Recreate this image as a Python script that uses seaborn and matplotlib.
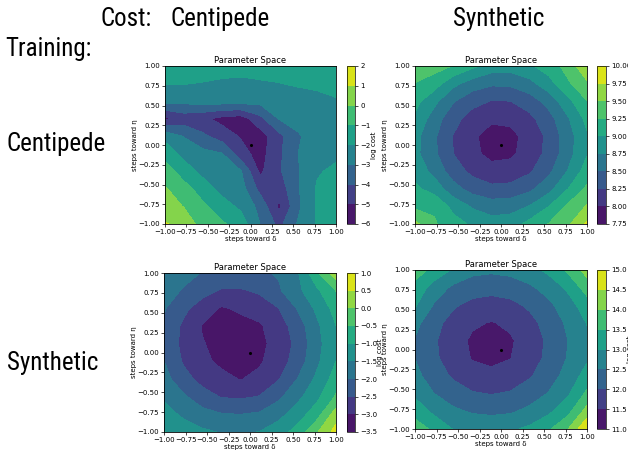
import matplotlib
matplotlib.use("Agg")
import matplotlib.pyplot as plt
from matplotlib import font_manager
from matplotlib.font_manager import FontProperties
import numpy as np
import seaborn as sns

# ---- grid of steps (delta along x, eta along y; eta listed from top row down) ----
delta_steps = [-1.0, -0.7778, -0.5556, -0.3333, -0.1111, 0.1111, 0.3333, 0.5556, 0.7778, 1.0]
eta_steps = [1.0, 0.7778, 0.5556, 0.3333, 0.1111, -0.1111, -0.3333, -0.5556, -0.7778, -1.0]

# log cost, training = Centipede, cost = Centipede
z_cent_cent = [
    [-1.4, -1.5, -1.6, -1.75, -1.8, -1.75, -1.65, -1.5, -1.4, -1.3],
    [-1.98, -1.97, -2.04, -2.10, -2.12, -2.07, -2.02, -1.9, -1.8, -1.7],
    [-2.7, -2.7, -2.6, -2.55, -2.55, -2.7, -2.5, -2.4, -2.3, -2.08],
    [-5.2, -4.6, -4.8, -5.3, -5.5, -4.3, -2.95, -2.7, -2.6, -2.4],
    [-2.3, -3.05, -3.8, -4.5, -5.1, -5.5, -4.3, -3.1, -2.6, -2.4],
    [-1.4, -2.3, -2.7, -2.95, -4.6, -5.4, -4.2, -3.0, -2.4, -2.2],
    [-0.5, -1.5, -2.3, -2.6, -2.95, -5.2, -4.15, -3.1, -2.1, -1.8],
    [0.1, -0.6, -1.5, -2.3, -2.6, -4.3, -4.6, -3.1, -1.9, -1.6],
    [0.5, -0.05, -0.8, -1.6, -2.2, -3.3, -5.2, -3.2, -1.9, -1.5],
    [1.08, 0.7, -0.5, -0.85, -1.5, -3.0, -4.3, -2.9, -1.9, -1.5],
]
# training = Centipede, cost = Synthetic
z_cent_syn = [
    [9.42, 9.35, 9.24, 9.06, 8.88, 8.86, 8.96, 9.12, 9.34, 9.72],
    [9.24, 9.12, 8.82, 8.63, 8.54, 8.55, 8.67, 8.90, 9.21, 9.45],
    [9.08, 8.82, 8.52, 8.33, 8.24, 8.25, 8.375, 8.595, 8.925, 9.24],
    [8.95, 8.63, 8.33, 8.146, 8.047, 8.065, 8.184, 8.403, 8.72, 9.07],
    [8.83, 8.54, 8.24, 8.047, 7.888, 7.925, 8.097, 8.307, 8.637, 8.97],
    [8.82, 8.55, 8.25, 8.065, 7.925, 7.954, 8.112, 8.322, 8.65, 8.98],
    [8.92, 8.67, 8.375, 8.184, 8.097, 8.112, 8.219, 8.443, 8.7625, 9.12],
    [9.05, 8.90, 8.595, 8.403, 8.307, 8.322, 8.443, 8.663, 8.996, 9.3],
    [9.2, 9.21, 8.925, 8.72, 8.637, 8.65, 8.7625, 8.996, 9.296, 9.52],
    [9.56, 9.28, 9.1, 8.96, 8.85, 8.88, 9.08, 9.26, 9.45, 9.8],
]
# training = Synthetic, cost = Centipede
z_syn_cent = [
    [-1.65, -1.85, -2.02, -2.1, -2.12, -2.08, -1.95, -1.55, -0.6, 0.3],
    [-1.79, -2.04, -2.31, -2.56, -2.56, -2.42, -2.07, -1.62, -1.10, -0.49],
    [-1.96, -2.37, -2.75, -3.05, -2.93, -2.79, -2.51, -1.96, -1.40, -0.81],
    [-2.07, -2.59, -3.03, -3.12, -3.14, -3.06, -2.73, -2.26, -1.60, -1.01],
    [-2.10, -2.63, -2.97, -3.16, -3.27, -3.12, -2.82, -2.36, -1.67, -1.07],
    [-1.99, -2.55, -2.90, -3.09, -3.14, -3.06, -2.74, -2.27, -1.60, -1.0],
    [-1.82, -2.31, -2.67, -2.88, -3.02, -2.88, -2.53, -1.98, -1.40, -0.78],
    [-1.58, -1.92, -2.29, -2.53, -2.57, -2.48, -2.11, -1.63, -1.13, -0.45],
    [-1.29, -1.59, -1.82, -1.97, -2.0, -1.93, -1.66, -1.24, -0.72, 0.25],
    [-0.98, -1.23, -1.41, -1.53, -1.56, -1.49, -1.23, -0.80, -0.05, 0.7],
]
# training = Synthetic, cost = Synthetic
z_syn_syn = [
    [13.8, 13.3, 12.95, 12.645, 12.59, 12.65, 12.83, 13.12, 13.59, 14.2],
    [13.3, 12.8, 12.39, 12.22, 12.16, 12.23, 12.41, 12.70, 13.09, 13.73],
    [13.05, 12.45, 12.06, 11.86, 11.80, 11.87, 12.08, 12.385, 12.79, 13.25],
    [12.65, 12.15, 11.82, 11.57, 11.47, 11.59, 11.85, 12.18, 12.59, 13.02],
    [12.46, 12.06, 11.71, 11.42, 11.25, 11.44, 11.74, 12.09, 12.50, 12.9],
    [12.49, 12.09, 11.75, 11.47, 11.37, 11.49, 11.78, 12.12, 12.53, 12.92],
    [12.64, 12.25, 11.93, 11.72, 11.64, 11.73, 11.95, 12.28, 12.68, 13.21],
    [12.90, 12.50, 12.23, 12.04, 11.98, 12.05, 12.25, 12.53, 12.93, 13.6],
    [13.30, 12.88, 12.60, 12.44, 12.39, 12.44, 12.62, 12.90, 13.34, 14.2],
    [13.75, 13.40, 12.98, 12.91, 12.86, 12.92, 13.10, 13.43, 13.98, 14.95],
]

levels_cent_cent = [-6, -5, -4, -3, -2, -1, 0, 1, 2]
levels_cent_syn = [7.75, 8.0, 8.25, 8.5, 8.75, 9.0, 9.25, 9.5, 9.75, 10.0]
levels_syn_cent = [-3.5, -3.0, -2.5, -2.0, -1.5, -1.0, -0.5, 0.0, 0.5, 1.0]
levels_syn_syn = [11.0, 11.5, 12.0, 12.5, 13.0, 13.5, 14.0, 14.5, 15.0]

axis_ticks = [-1.0, -0.75, -0.5, -0.25, 0.0, 0.25, 0.5, 0.75, 1.0]
optimum_delta = [0.0]
optimum_eta = [0.0]

col_titles = ["Centipede", "Synthetic"]
row_titles = ["Centipede", "Synthetic"]

# ---------------------------------------------------------------------------
W, H = 628, 450
fig = plt.figure(figsize=(W / 100, H / 100), dpi=100)
fig.patch.set_facecolor("white")

cmap = sns.color_palette("viridis", as_cmap=True)

# pick a narrow / condensed sans font for the big labels if one is installed
big_fp = None
prefs = ["liberationsansnarrow-regular", "robotocondensed-regular", "notosans-condensed.",
         "notosans-condensed", "opensans-condensed", "opensans_condensed", "dejavusanscondensed.",
         "dejavusanscondensed"]
files = [f.fname for f in font_manager.fontManager.ttflist]
for p in prefs:
    hits = [f for f in files if p in f.lower().replace(" ", "").replace("_", "-") or p in f.lower()]
    hits = [f for f in hits if not any(b in f.lower() for b in ["bold", "italic", "oblique", "light", "thin", "black", "medium", "semi"])]
    if hits:
        big_fp = FontProperties(fname=sorted(hits, key=len)[0], size=18)
        break
if big_fp is None:
    big_fp = FontProperties(family=["Liberation Sans", "DejaVu Sans"], size=15.5)


def px_rect(x0, y0, x1, y1):
    return [x0 / W, 1 - y1 / H, (x1 - x0) / W, (y1 - y0) / H]


panels = [
    (z_cent_cent, levels_cent_cent, (165, 66, 336, 224), (347, 66, 355, 224)),
    (z_cent_syn, levels_cent_syn, (415, 66, 587, 224), (597, 66, 606, 224)),
    (z_syn_cent, levels_syn_cent, (164, 273, 336, 432), (347, 273, 355, 432)),
    (z_syn_syn, levels_syn_syn, (415, 270, 587, 429), (597, 270, 606, 429)),
]

X, Y = np.meshgrid(np.array(delta_steps), np.array(eta_steps))

for z, lev, axr, cbr in panels:
    ax = fig.add_axes(px_rect(*axr))
    cax = fig.add_axes(px_rect(*cbr))
    cs = ax.contourf(X, Y, np.array(z), levels=lev, cmap=cmap)
    sns.scatterplot(x=optimum_delta, y=optimum_eta, color="black", s=5,
                    linewidth=0, ax=ax, legend=False, zorder=5)
    ax.set_xlim(-1, 1)
    ax.set_ylim(-1, 1)
    ax.set_xticks(axis_ticks)
    ax.set_yticks(axis_ticks)
    ax.tick_params(labelsize=5, length=2.5, width=0.5, pad=1.2)
    for s in ax.spines.values():
        s.set_linewidth(0.6)
    ax.set_title("Parameter Space", fontsize=6, pad=2.5)
    ax.set_xlabel("steps toward δ", fontsize=5, labelpad=0.8)
    ax.set_ylabel("steps toward η", fontsize=5, labelpad=0.2)
    cb = fig.colorbar(cs, cax=cax, ticks=lev)
    cb.ax.tick_params(labelsize=5, length=2.5, width=0.5, pad=1.2)
    cb.outline.set_linewidth(0.5)
    cb.set_label("log cost", fontsize=5, labelpad=0)

# big header labels
fig.text(100 / W, 1 - 26 / H, "Cost:", fontproperties=big_fp, va="baseline", ha="left")
fig.text(220 / W, 1 - 26 / H, col_titles[0], fontproperties=big_fp, va="baseline", ha="center")
fig.text(499 / W, 1 - 26 / H, col_titles[1], fontproperties=big_fp, va="baseline", ha="center")
fig.text(5 / W, 1 - 56 / H, "Training:", fontproperties=big_fp, va="baseline", ha="left")
fig.text(7 / W, 1 - 151 / H, row_titles[0], fontproperties=big_fp, va="baseline", ha="left")
fig.text(7 / W, 1 - 370 / H, row_titles[1], fontproperties=big_fp, va="baseline", ha="left")

fig.savefig("out.png", dpi=100, facecolor="white")
